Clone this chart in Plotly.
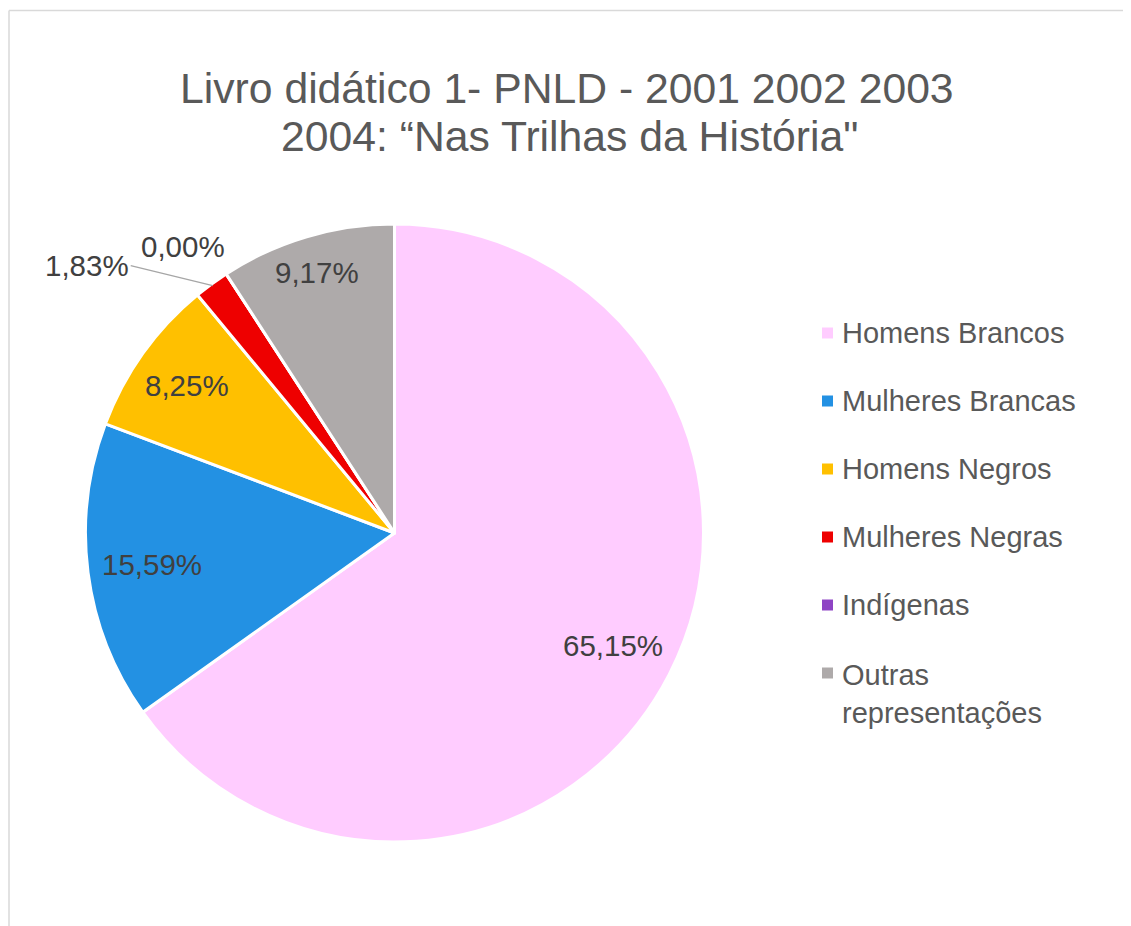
import math
import plotly.graph_objects as go

# ---- data ----
categories = ["Homens Brancos", "Mulheres Brancas", "Homens Negros",
              "Mulheres Negras", "Indígenas", "Outras representações"]
legend_labels = ["Homens Brancos", "Mulheres Brancas", "Homens Negros",
                 "Mulheres Negras", "Indígenas", "Outras<br>representações"]
percentages = [65.15, 15.59, 8.25, 1.83, 0.00, 9.17]
colors = ["#FFCCFF", "#2391E3", "#FFC000", "#EE0000", "#8E44C4", "#AEAAAA"]
title_lines = ["Livro didático 1- PNLD - 2001 2002 2003",
               "2004: “Nas Trilhas da História\""]

# page body has an 8px margin
OFF = 8
W, H = 1131 - OFF, 926 - OFF
CX, CY, R = 394.5, 533.0, 309.0


def px(x):
    return (x - OFF) / W


def py(y):
    return 1 - (y - OFF) / H


def fmt(v):
    return f"{v:.2f}".replace(".", ",") + "%"


fig = go.Figure()
fig.add_trace(go.Pie(
    labels=categories,
    values=percentages,
    sort=False,
    direction="clockwise",
    rotation=0,
    marker=dict(colors=colors, line=dict(color="white", width=3)),
    textinfo="none",
    hoverinfo="label+percent",
    showlegend=False,
    domain=dict(x=[px(CX - R), px(CX + R)], y=[py(CY + R), py(CY - R)]),
))

annotations = []
title_font = dict(size=42.7, color="#595959", family="Liberation Sans, Arial")
annotations.append(dict(text=title_lines[0], x=px(567), y=py(88), xref="paper", yref="paper",
                        showarrow=False, font=title_font, xanchor="center", yanchor="middle"))
annotations.append(dict(text=title_lines[1], x=px(569), y=py(136), xref="paper", yref="paper",
                        showarrow=False, font=title_font, xanchor="center", yanchor="middle"))

# data labels (inside labels placed a fixed gap inside the rim, "best fit" style)
total = sum(percentages)
cum = 0.0
LS = 29.5
label_font = dict(size=LS, color="#404040", family="Liberation Sans, Arial")
RVIS = R - 1.5
for i, v in enumerate(percentages):
    a0 = cum / total * 2 * math.pi
    cum += v
    a1 = cum / total * 2 * math.pi
    mid = (a0 + a1) / 2
    sx, sy = math.sin(mid), -math.cos(mid)
    txt = fmt(v)
    if v >= 5:
        ndig = sum(c.isdigit() for c in txt)
        half_w = LS * (0.556 * ndig + 0.278 + 0.889) / 2
        half_h = 12
        support = half_w * abs(sx) + half_h * abs(sy)
        r = RVIS - 12 - support
        annotations.append(dict(text=txt, x=px(CX + r * sx), y=py(CY + r * sy),
                                xref="paper", yref="paper", showarrow=False,
                                font=label_font, xanchor="center", yanchor="middle"))
    elif v > 0:
        ex, ey = CX + (R - 2) * sx, CY + (R - 2) * sy
        annotations.append(dict(text=txt, x=px(ex), y=py(ey), xref="paper", yref="paper",
                                showarrow=True, arrowhead=0, arrowwidth=1.2,
                                arrowcolor="#A6A6A6", ax=-82, ay=-20, standoff=0,
                                xanchor="right", yanchor="middle", font=label_font))
    else:
        ex, ey = CX + R * sx, CY + R * sy
        annotations.append(dict(text=txt, x=px(ex), y=py(ey), xref="paper", yref="paper",
                                showarrow=False, xshift=-43, yshift=27,
                                font=label_font, xanchor="center", yanchor="middle"))

# custom legend
shapes = []
legend_font = dict(size=29, color="#595959", family="Liberation Sans, Arial")
for i, (lab, col) in enumerate(zip(legend_labels, colors)):
    yc = 333 + 68 * i
    shapes.append(dict(type="rect", xref="paper", yref="paper",
                       x0=px(822), x1=px(833), y0=py(yc - 5.5), y1=py(yc + 5.5),
                       fillcolor=col, line=dict(width=0)))
    if "<br>" in lab:
        annotations.append(dict(text=lab, x=px(840), y=py(yc - 16), xref="paper", yref="paper",
                                showarrow=False, font=legend_font, xanchor="left",
                                yanchor="top", align="left"))
    else:
        annotations.append(dict(text=lab, x=px(840), y=py(yc), xref="paper", yref="paper",
                                showarrow=False, font=legend_font, xanchor="left",
                                yanchor="middle", align="left"))

# chart border (only top and left edges visible in the frame)
border = dict(color="#D9D9D9", width=1.5)
shapes.append(dict(type="line", xref="paper", yref="paper",
                   x0=px(9), x1=1, y0=py(10.5), y1=py(10.5), line=border))
shapes.append(dict(type="line", xref="paper", yref="paper",
                   x0=px(9), x1=px(9), y0=0, y1=py(10.5), line=border))

fig.update_layout(
    width=W, height=H,
    margin=dict(l=0, r=0, t=0, b=0),
    paper_bgcolor="white",
    plot_bgcolor="white",
    annotations=annotations,
    shapes=shapes,
    showlegend=False,
)

fig.write_html("out.html")
